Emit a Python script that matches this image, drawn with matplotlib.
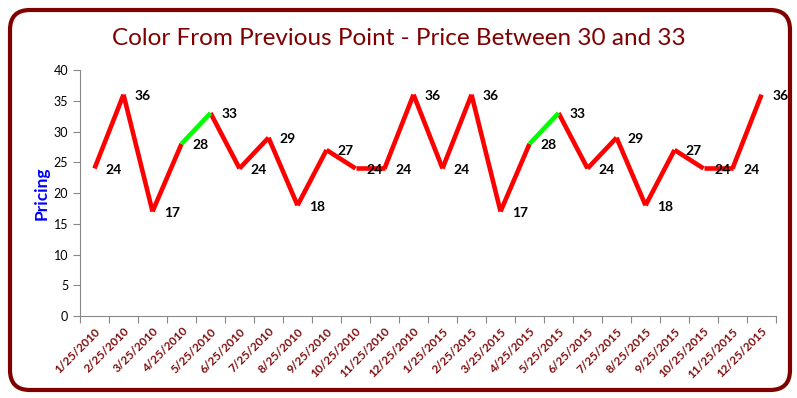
import matplotlib
matplotlib.use("Agg")
import matplotlib.pyplot as plt
from matplotlib.patches import FancyBboxPatch

dates = ["1/25/2010", "2/25/2010", "3/25/2010", "4/25/2010", "5/25/2010", "6/25/2010",
         "7/25/2010", "8/25/2010", "9/25/2010", "10/25/2010", "11/25/2010", "12/25/2010",
         "1/25/2015", "2/25/2015", "3/25/2015", "4/25/2015", "5/25/2015", "6/25/2015",
         "7/25/2015", "8/25/2015", "9/25/2015", "10/25/2015", "11/25/2015", "12/25/2015"]
prices = [24, 36, 17, 28, 33, 24, 29, 18, 27, 24, 24, 36,
          24, 36, 17, 28, 33, 24, 29, 18, 27, 24, 24, 36]
low, high = 30, 33

plt.rcParams['font.family'] = ['Lato', 'DejaVu Sans']
fig = plt.figure(figsize=(7.97, 3.98), dpi=100)
frame = FancyBboxPatch((10 / 797, 8 / 398), 780 / 797, 380 / 398, boxstyle="round,pad=0,rounding_size=0.025",
                       transform=fig.transFigure, fill=False, edgecolor="#800000", linewidth=3,
                       mutation_aspect=797/398, zorder=-1)
fig.patches.append(frame)

ax = fig.add_axes([0.1004, 0.206, 0.8733, 0.618])
x = list(range(len(prices)))
for i in range(len(prices) - 1):
    c = "#00FF00" if low <= prices[i + 1] <= high else "#FF0000"
    ax.plot([x[i], x[i + 1]], [prices[i], prices[i + 1]], color=c, lw=3.3, solid_capstyle='butt',
            solid_joinstyle='miter', zorder=3 if c != "#FF0000" else 2)
for xi, v in zip(x, prices):
    ax.annotate(str(v), (xi, v), xytext=(8, -1), textcoords="offset points", ha="left", va="center",
                fontsize=10, fontweight="bold", color="black", zorder=4, annotation_clip=False)

ax.set_xlim(-0.5, len(prices) - 0.5)
ax.set_ylim(0, 40)
ax.set_yticks(range(0, 41, 5))
ax.set_xticks([i - 0.5 for i in range(len(prices) + 1)], minor=False)
ax.set_xticklabels([])
ax.set_xticks(x, minor=True)
ax.set_xticklabels(dates, minor=True, rotation=45, ha="right", rotation_mode="anchor",
                   fontsize=8.5, fontweight="bold", color="#7F1010")
ax.tick_params(axis="x", which="minor", length=0, pad=7)
ax.tick_params(axis="x", which="major", length=5, color="#888888")
ax.tick_params(axis="y", length=5, color="#888888", labelsize=9)
for s in ["top", "right"]:
    ax.spines[s].set_visible(False)
for s in ["left", "bottom"]:
    ax.spines[s].set_color("#888888")
ax.set_ylabel("Pricing", color="#0000FF", fontweight="bold", fontsize=12.5, labelpad=3)
fig.text(0.5, 0.903, "Color From Previous Point - Price Between 30 and 33", ha="center", va="center",
         fontsize=17.5, color="#800000")
fig.savefig("out.png", dpi=100)
